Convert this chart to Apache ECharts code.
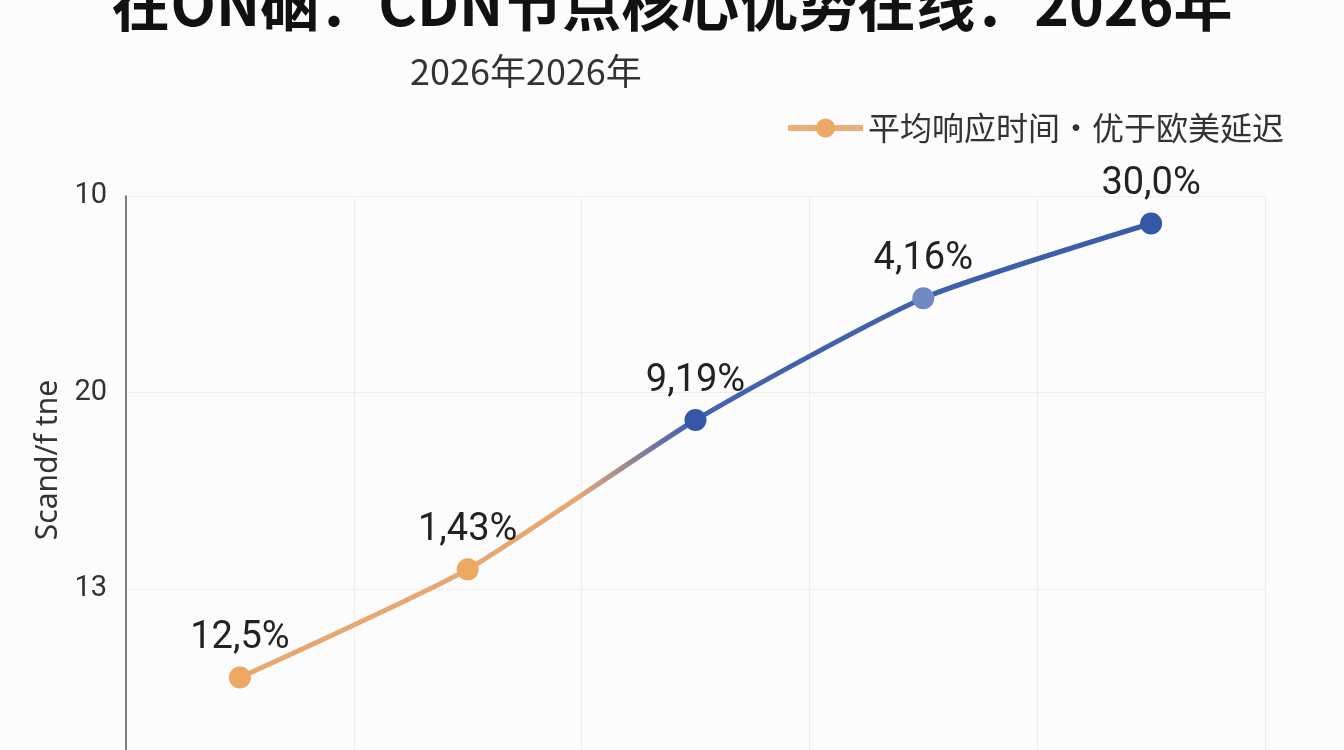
<!DOCTYPE html>
<html>
<head>
<meta charset="utf-8">
<script src="https://cdn.jsdelivr.net/npm/echarts@6/dist/echarts.min.js"></script>
<style>
  html, body { margin: 0; padding: 0; width: 1344px; height: 750px; overflow: hidden; background: #fcfcfc; }
  #chart { position: absolute; left: 0; top: -60px; width: 1344px; height: 900px; }
</style>
</head>
<body>
<div id="chart"></div>
<script>
// data
const categories = ['2022', '2023', '2024', '2025', '2026'];
const values = [34.5, 29.0, 21.4, 15.2, 11.4];
const valueLabels = ['12,5%', '1,43%', '9,19%', '4,16%', '30,0%'];
const pointColors = ['#eda863', '#eda863', '#3457a6', '#7189c2', '#3457a6'];
const tickValues = [10, 20, 30, 40];
const tickLabels = ['10', '20', '13', ''];

const seriesName = '平均响应时间·优于欧美延迟';

const chart = echarts.init(document.getElementById('chart'));

const options = {
    backgroundColor: '#fcfcfc',
    title: {
        text: '在ON硇：CDN节点核心优势在线：2026年',
        left: 'center',
        top: 29,
        textStyle: {
            fontFamily: 'Noto Sans CJK SC',
            fontSize: 59,
            fontWeight: 'bold',
            color: '#111'
        }
    },
    graphic: [
        {
            type: 'text',
            x: 410,
            y: 131,
            style: {
                text: '2026年2026年',
                fontFamily: 'Noto Sans CJK SC',
                fontSize: 36,
                fill: '#333',
                verticalAlign: 'middle'
            }
        },
        {
            type: 'text',
            x: 48,
            y: 520,
            rotation: Math.PI / 2,
            style: {
                text: 'Scand/f tne',
                fontFamily: 'Noto Sans',
                fontSize: 30,
                fill: '#333',
                align: 'center',
                verticalAlign: 'middle'
            }
        }
    ],
    legend: {
        left: 780,
        top: 167,
        itemWidth: 75,
        itemHeight: 24,
        textStyle: {
            fontFamily: 'Noto Sans CJK SC',
            fontSize: 32,
            color: '#333'
        },
        data: [{
            name: seriesName,
            itemStyle: { color: '#eda863' },
            lineStyle: { color: '#eab07a', width: 6 }
        }]
    },
    grid: {
        left: 126,
        right: 79,
        top: 256,
        bottom: 54.5,
        containLabel: false
    },
    xAxis: {
        type: 'category',
        data: categories,
        boundaryGap: true,
        axisLine: { lineStyle: { color: '#555' } },
        axisTick: { show: false },
        axisLabel: { fontSize: 24, color: '#333' },
        splitLine: { show: true, lineStyle: { color: '#eeeeee', width: 1 } }
    },
    yAxis: {
        type: 'value',
        inverse: true,
        min: 10,
        max: 40,
        interval: 10,
        axisLine: { show: true, lineStyle: { color: '#555', width: 1.5 } },
        axisTick: { show: false },
        axisLabel: {
            margin: 19,
            fontFamily: 'Roboto',
            fontSize: 29,
            color: '#333',
            formatter: function (v) {
                const i = tickValues.indexOf(v);
                return i >= 0 ? tickLabels[i] : '';
            }
        },
        splitLine: { lineStyle: { color: '#eeeeee', width: 1 } }
    },
    series: [
        {
            name: seriesName,
            type: 'line',
            smooth: 0.2,
            symbol: 'circle',
            symbolSize: 22,
            data: values.map(function (v, i) {
                return { value: v, itemStyle: { color: pointColors[i] } };
            }),
            itemStyle: { color: '#eda863' },
            lineStyle: {
                width: 5,
                color: new echarts.graphic.LinearGradient(0, 0, 1, 0, [
                    { offset: 0, color: '#e7a86f' },
                    { offset: 0.37, color: '#e6a874' },
                    { offset: 0.49, color: '#4464ad' },
                    { offset: 1, color: '#3a5ca9' }
                ])
            },
            label: {
                show: true,
                position: 'top',
                distance: 9,
                fontFamily: 'Roboto',
                fontSize: 38,
                color: '#222',
                formatter: function (p) {
                    return valueLabels[p.dataIndex];
                }
            }
        }
    ]
};

chart.setOption(options);
</script>
</body>
</html>
